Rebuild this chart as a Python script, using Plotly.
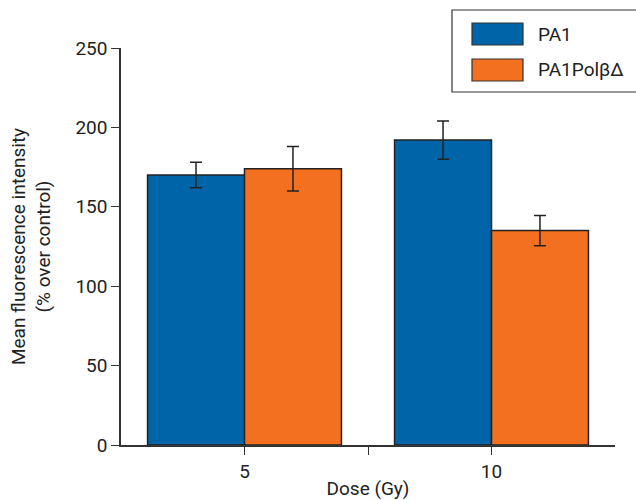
import plotly.graph_objects as go

categories = ["5", "10"]
series_names = ["PA1", "PA1Polβ\u0394"]
pa1_values = [170, 192]
pa1_errors = [8, 12]
polb_values = [174, 135]
polb_errors = [14, 9.5]
y_ticks = [0, 50, 100, 150, 200, 250]

colors = ["#0064A8", "#F37021"]
FONT = "Roboto"
FS = 19
xpos = list(range(len(categories)))

# plot-area geometry (pixels)
L, R, T, B = 121, 21, 48, 55
W, H = 636, 500
PW, PH = W - L - R, H - T - B

fig = go.Figure()
for name, vals, errs, col in zip(series_names, [pa1_values, polb_values],
                                 [pa1_errors, polb_errors], colors):
    fig.add_trace(go.Bar(
        x=xpos, y=vals, name=name, marker_color=col,
        marker_line=dict(color="#222222", width=1.5),
        error_y=dict(type="data", array=errs, color="#222222", thickness=1.5, width=6),
        showlegend=False,
    ))

fig.update_layout(
    template="none",
    width=W, height=H,
    margin=dict(l=L, r=R, t=T, b=B, autoexpand=False),
    barmode="group", bargap=0.215, bargroupgap=0,
    plot_bgcolor="white", paper_bgcolor="white",
    font=dict(family=FONT, size=FS, color="#222222"),
    xaxis=dict(
        automargin=False,
        range=[-0.5, 1.5], tickmode="array",
        tickvals=[0, 0.5, 1], ticktext=["5", "", "10"],
        ticks="outside", ticklen=8, tickcolor="#333333", tickwidth=1.2,
        showline=True, linecolor="#333333", linewidth=1.5,
        showgrid=False, zeroline=False,
        title=dict(text="Dose (Gy)", standoff=0, font=dict(size=FS)),
        tickfont=dict(size=FS),
    ),
    yaxis=dict(
        automargin=False,
        range=[0, 250], tickvals=y_ticks,
        ticks="outside", ticklen=8, tickcolor="#333333", tickwidth=1.2,
        showline=True, linecolor="#333333", linewidth=1.5,
        showgrid=False, zeroline=False,
        title=dict(text="Mean fluorescence intensity<br>(% over control)", standoff=20,
                   font=dict(size=FS)),
        tickfont=dict(size=FS),
    ),
)

# custom legend box
def px2x(p):
    return (p - L) / PW

def px2y(p):
    return (H - B - p) / PH

fig.add_shape(type="rect", xref="paper", yref="paper",
              x0=px2x(452), x1=px2x(640), y0=px2y(92), y1=px2y(10),
              line=dict(color="#333333", width=1.2), fillcolor="white", layer="above")
for i, (name, col) in enumerate(zip(series_names, colors)):
    top = 23 + i * 36
    fig.add_shape(type="rect", xref="paper", yref="paper",
                  x0=px2x(472), x1=px2x(523), y0=px2y(top + 22), y1=px2y(top),
                  line=dict(color="#333333", width=1.2), fillcolor=col, layer="above")
    fig.add_annotation(xref="paper", yref="paper", x=px2x(536), y=px2y(top + 11),
                       text=name, showarrow=False, xanchor="left", yanchor="middle",
                       font=dict(size=FS, family=FONT, color="#222222"))

fig.write_html("out.html", config={"displayModeBar": False},
               post_script="document.body.style.margin='0';")
